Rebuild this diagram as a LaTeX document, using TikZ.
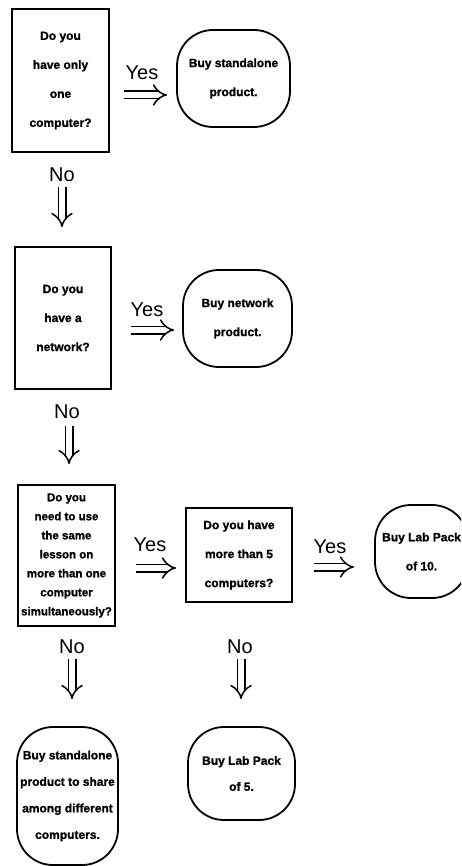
\documentclass[tikz,border=0pt]{standalone}
\usepackage{fontspec}
\setmainfont{Liberation Sans}
\newfontfamily\boxfont{Liberation Sans Bold}[FakeBold=1.2]
\usetikzlibrary{arrows.meta}
\begin{document}
\begin{tikzpicture}[x=1pt,y=-1pt,
  q/.style={draw, line width=1.8pt, inner sep=0pt, align=center,
    font=\boxfont\fontsize{12}{29}\selectfont},
  r/.style={q, rounded corners=36pt},
  lab/.style={font=\fontsize{20}{24}\selectfont, inner sep=0pt},
  imp/.style={double, double distance=6pt, line width=1.5pt, -{Implies[scale=2.2]}},
]
\path[use as bounding box] (0,0) rectangle (461,866);
\clip (0,0) rectangle (461,866);

% question boxes
\node[q, minimum width=97pt, minimum height=143pt] (q1) at (60.5,80.5)
  {Do you\\have only\\one\\computer?};
\node[q, minimum width=96pt, minimum height=142pt] (q2) at (63,318)
  {Do you\\have a\\network?};
\node[q, minimum width=97pt, minimum height=141pt,
  font=\boxfont\fontsize{11.5}{19}\selectfont] (q3) at (66.5,555.5)
  {Do you\\need to use\\the same\\lesson on\\more than one\\computer\\simultaneously?};
\node[q, minimum width=106pt, minimum height=94pt] (q4) at (239,555)
  {Do you have\\more than 5\\computers?};

% result boxes
\node[r, minimum width=113pt, minimum height=97pt] (r1) at (233.5,78.5)
  {Buy standalone\\product.};
\node[r, minimum width=109pt, minimum height=97pt] (r2) at (237.5,318.5)
  {Buy network\\product.};
\node[r, minimum width=93pt, minimum height=93pt] (r5) at (421.5,551.5)
  {Buy Lab Pack\\of 10.};
\node[r, minimum width=101pt, minimum height=138pt,
  font=\boxfont\fontsize{12}{26.5}\selectfont] (r3) at (67.5,796)
  {Buy standalone\\product to share\\among different\\computers.};
\node[r, minimum width=107pt, minimum height=93pt,
  font=\boxfont\fontsize{12}{26}\selectfont] (r4) at (241.5,773.5)
  {Buy Lab Pack\\of 5.};

% labels
\node[lab] (y1) at (142,73) {Yes};
\node[lab] (y2) at (147,310) {Yes};
\node[lab] (y3) at (150,545) {Yes};
\node[lab] (y4) at (330,547) {Yes};
\node[lab] (n1) at (62,175) {No};
\node[lab] (n2) at (67,412) {No};
\node[lab] (n3) at (72,647) {No};
\node[lab] (n4) at (240,647) {No};

% yes arrows
\draw[imp, shorten <=14pt, shorten >=9pt]
  ([yshift=-14.5pt]q1.east) -- ([yshift=-14.5pt]q1.east -| r1.west);
\draw[imp, shorten <=19pt, shorten >=8pt]
  ([yshift=-12pt]q2.east) -- ([yshift=-12pt]q2.east -| r2.west);
\draw[imp, shorten <=20pt, shorten >=9pt]
  ([yshift=-12.5pt]q3.east) -- ([yshift=-12.5pt]q3.east -| q4.west);
\draw[imp, shorten <=21pt, shorten >=20pt]
  ([yshift=-12pt]q4.east) -- ([yshift=-12pt]q4.east -| r5.west);

% no arrows
\draw[imp, shorten <=34pt, shorten >=19pt]
  ([xshift=1.5pt]q1.south) -- ([xshift=1.5pt]q1.south |- q2.north);
\draw[imp, shorten <=36pt, shorten >=20pt]
  ([xshift=6pt]q2.south) -- ([xshift=6pt]q2.south |- q3.north);
\draw[imp, shorten <=32pt, shorten >=27pt]
  ([xshift=5.5pt]q3.south) -- ([xshift=5.5pt]q3.south |- r3.north);
\draw[imp, shorten <=56pt, shorten >=27pt]
  ([xshift=2pt]q4.south) -- ([xshift=2pt]q4.south |- r4.north);
\end{tikzpicture}
\end{document}
